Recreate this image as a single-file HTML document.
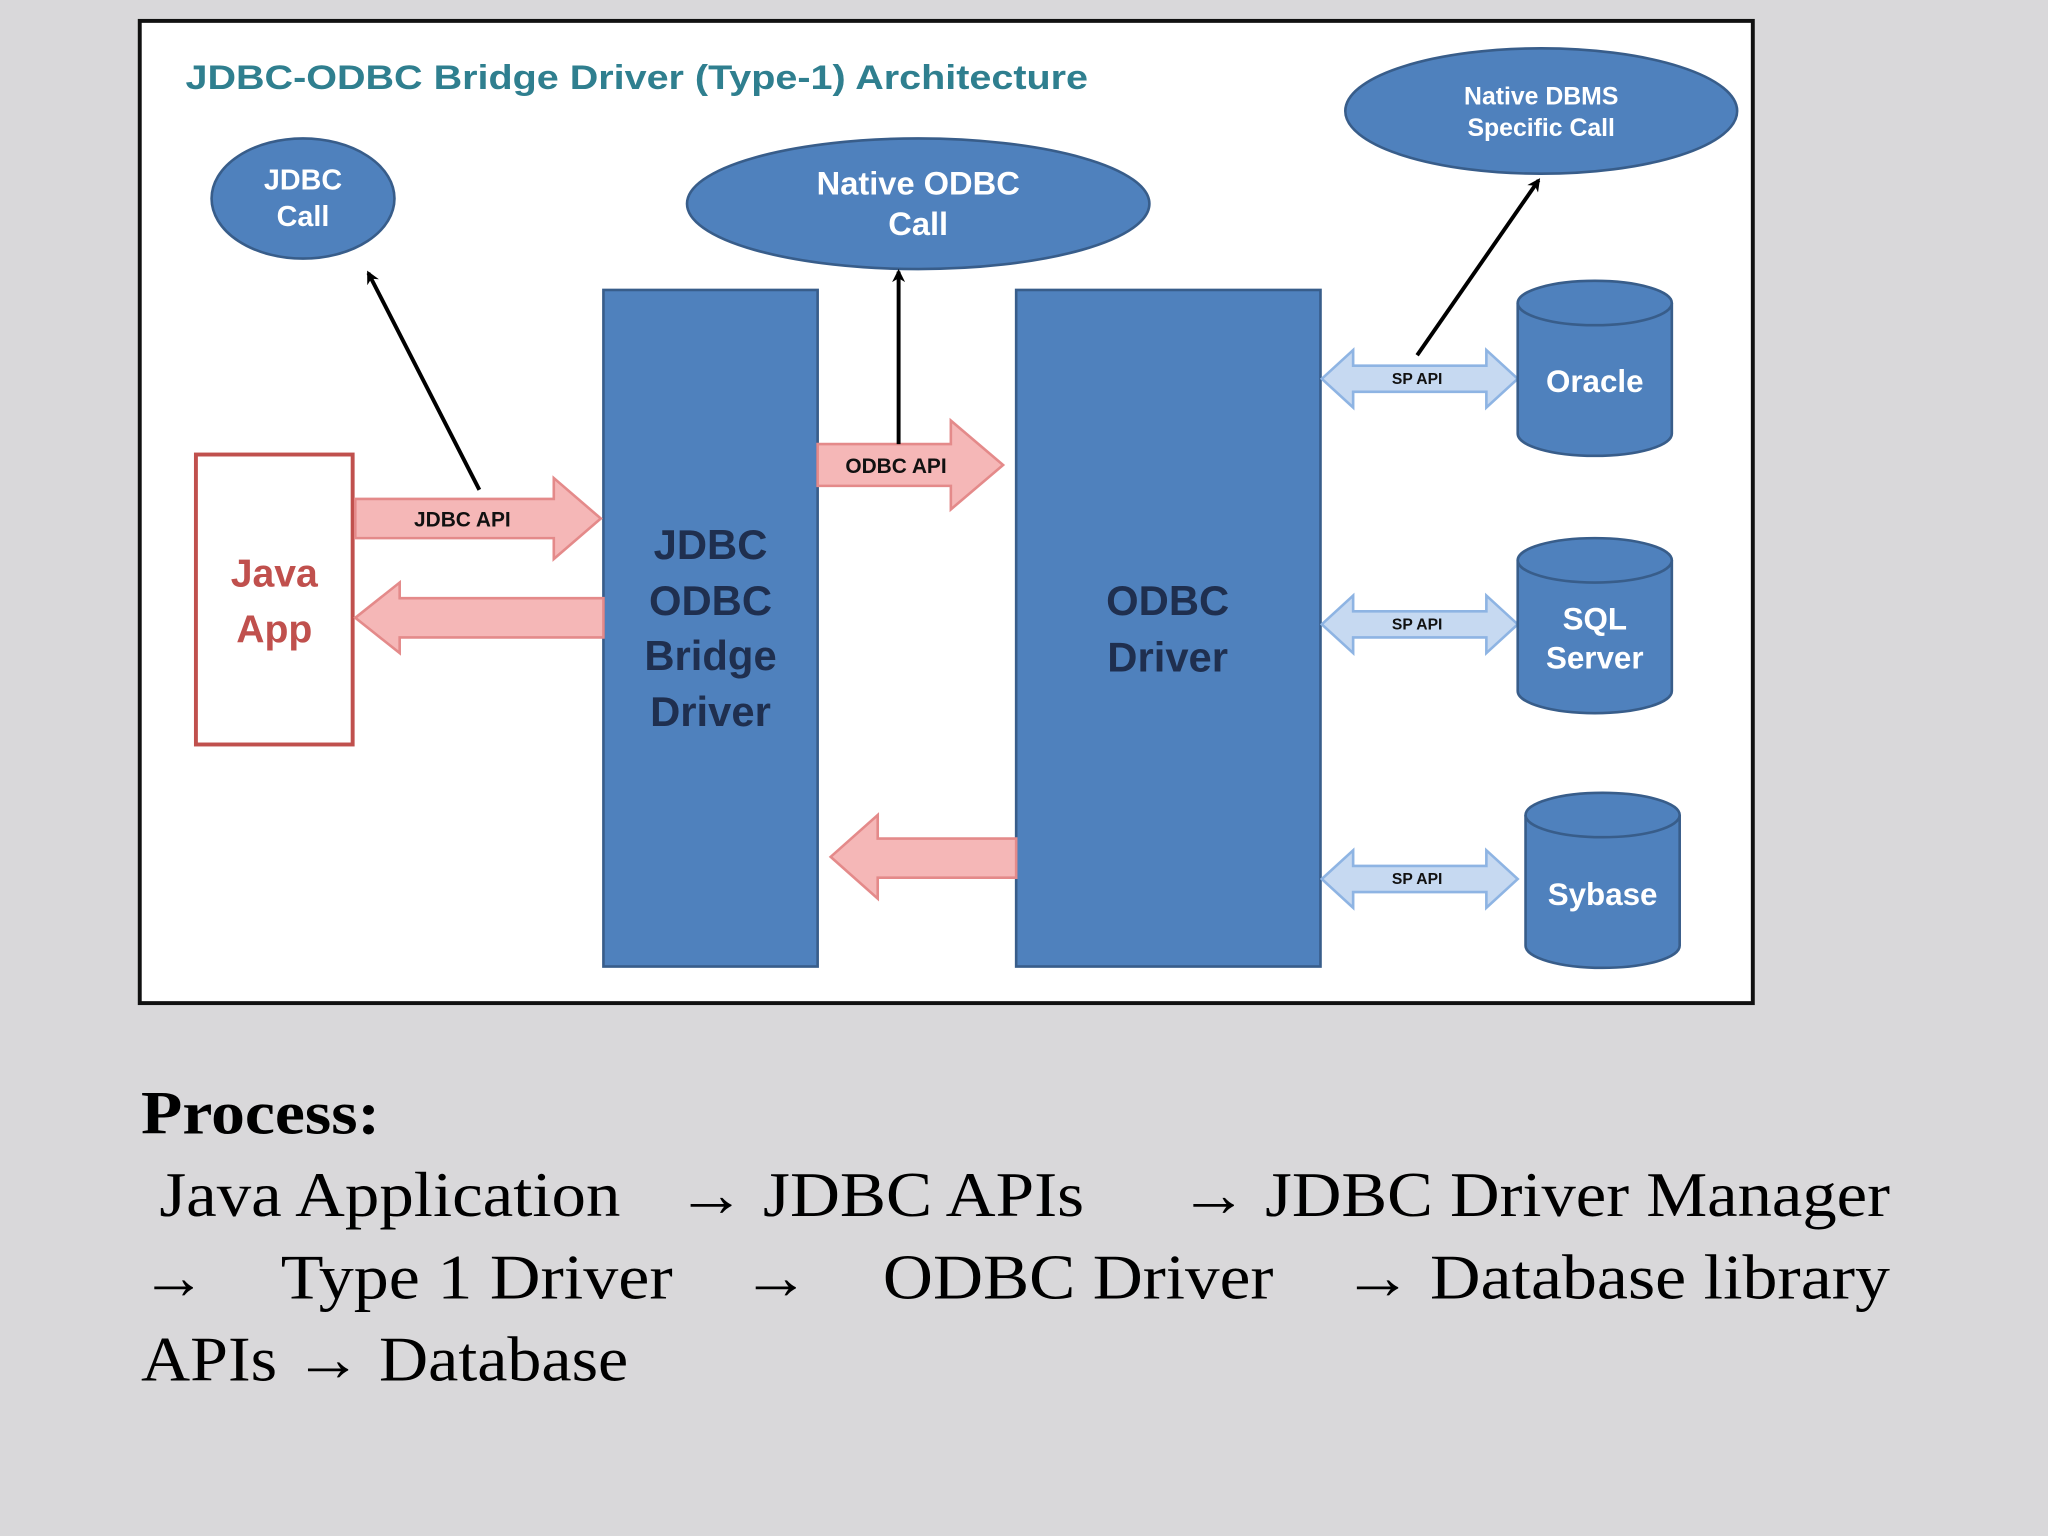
<!DOCTYPE html>
<html><head><meta charset="utf-8"><style>
html,body{margin:0;padding:0;background:#d9d8da;}
svg{display:block;}
.s{font-family:"Liberation Sans",sans-serif;font-weight:bold;}
.r{font-family:"Liberation Serif",serif;fill:#000;}
</style></head><body>
<svg width="2048" height="1536" viewBox="0 0 1568 1176" xmlns="http://www.w3.org/2000/svg">
<defs>
<marker id="ah" markerWidth="10" markerHeight="10" refX="8" refY="5" orient="auto" markerUnits="userSpaceOnUse"><path d="M0,0 L10,5 L0,10 L3,5 Z" fill="#000"/></marker>
</defs>
<rect width="1568" height="1176" fill="#d9d8da"/>
<rect x="107" y="16" width="1235" height="752" fill="#fff" stroke="#111" stroke-width="3"/>
<text x="142" y="68" class="s" font-size="26" fill="#2f7f8f" textLength="691" lengthAdjust="spacingAndGlyphs">JDBC-ODBC Bridge Driver (Type-1) Architecture</text>

<g fill="#4f81bd" stroke="#385d8a" stroke-width="2">
<ellipse cx="232" cy="152" rx="70" ry="46"/>
<ellipse cx="703" cy="156" rx="177" ry="50"/>
<ellipse cx="1180" cy="85" rx="150" ry="48"/>
<rect x="462" y="222" width="164" height="518"/>
<rect x="778" y="222" width="233" height="518"/>
</g>
<g class="s" fill="#fff" text-anchor="middle" font-size="22" font-weight="normal">
<text x="232" y="145">JDBC</text><text x="232" y="173">Call</text>
<text x="703" y="149" font-size="25">Native ODBC</text><text x="703" y="180" font-size="25">Call</text>
<text x="1180" y="80" font-size="19">Native DBMS</text><text x="1180" y="104" font-size="19">Specific Call</text>
</g>
<g class="s" fill="#1f2f4f" text-anchor="middle" font-size="32">
<text x="544" y="428">JDBC</text><text x="544" y="471">ODBC</text><text x="544" y="513">Bridge</text><text x="544" y="556">Driver</text>
<text x="894" y="471">ODBC</text><text x="894" y="514">Driver</text>
</g>
<rect x="150" y="348" width="120" height="222" fill="#fff" stroke="#c0504d" stroke-width="3"/>
<text x="210" y="449" class="s" font-size="30" fill="#c0504d" text-anchor="middle" font-weight="normal">Java</text>
<text x="210" y="492" class="s" font-size="30" fill="#c0504d" text-anchor="middle" font-weight="normal">App</text>

<g fill="#f5b7b7" stroke="#e48a8a" stroke-width="2">
<path d="M272,382 H424 V366 L460,397 L424,428 V412 H272 Z"/>
<path d="M462,458 H306 V446 L272,473 L306,500 V488 H462 Z"/>
<path d="M626,340 H728 V322 L768,356 L728,390 V372 H626 Z"/>
<path d="M778,642 H672 V624 L636,656 L672,688 V672 H778 Z"/>
</g>
<g class="s" font-size="16" fill="#111" text-anchor="middle">
<text x="354" y="403">JDBC API</text>
<text x="686" y="362">ODBC API</text>
</g>
<g fill="#c6d9f1" stroke="#8eb4e3" stroke-width="2">
<path d="M1012,290 L1036,268 V280 H1138 V268 L1162,290 L1138,312 V300 H1036 V312 Z"/>
<path d="M1012,478 L1036,456 V468 H1138 V456 L1162,478 L1138,500 V488 H1036 V500 Z"/>
<path d="M1012,673 L1036,651 V663 H1138 V651 L1162,673 L1138,695 V683 H1036 V695 Z"/>
</g>
<g class="s" font-size="12" fill="#111" text-anchor="middle">
<text x="1085" y="294">SP API</text><text x="1085" y="482">SP API</text><text x="1085" y="677">SP API</text>
</g>
<g stroke="#000" stroke-width="3" marker-end="url(#ah)">
<line x1="367" y1="375" x2="282" y2="209"/>
<line x1="688" y1="340" x2="688" y2="208"/>
<line x1="1085" y1="272" x2="1178" y2="138"/>
</g>
<g fill="#4f81bd" stroke="#385d8a" stroke-width="2">
<path d="M1162,232 V332 A59,17 0 0 0 1280,332 V232"/><ellipse cx="1221" cy="232" rx="59" ry="17"/>
<path d="M1162,429 V529 A59,17 0 0 0 1280,529 V429"/><ellipse cx="1221" cy="429" rx="59" ry="17"/>
<path d="M1168,624 V724 A59,17 0 0 0 1286,724 V624"/><ellipse cx="1227" cy="624" rx="59" ry="17"/>
</g>
<g class="s" font-size="24" fill="#fff" text-anchor="middle" font-weight="normal">
<text x="1221" y="300">Oracle</text>
<text x="1221" y="482">SQL</text><text x="1221" y="512">Server</text>
<text x="1227" y="693">Sybase</text>
</g>

<text x="108" y="868" class="r" font-size="47" font-weight="bold" textLength="183" lengthAdjust="spacingAndGlyphs">Process:</text>
<g class="r" font-size="49" lengthAdjust="spacingAndGlyphs">
<text x="122" y="931" textLength="353" lengthAdjust="spacingAndGlyphs">Java Application</text>
<text x="518" y="931" textLength="312" lengthAdjust="spacingAndGlyphs">→ JDBC APIs</text>
<text x="903" y="931" textLength="544" lengthAdjust="spacingAndGlyphs">→ JDBC Driver Manager</text>
<text x="108" y="994" textLength="50" lengthAdjust="spacingAndGlyphs">→</text>
<text x="215" y="994" textLength="300" lengthAdjust="spacingAndGlyphs">Type 1 Driver</text>
<text x="568" y="994" textLength="52" lengthAdjust="spacingAndGlyphs">→</text>
<text x="676" y="994" textLength="299" lengthAdjust="spacingAndGlyphs">ODBC Driver</text>
<text x="1028" y="994" textLength="419" lengthAdjust="spacingAndGlyphs">→ Database library</text>
<text x="108" y="1057" textLength="373" lengthAdjust="spacingAndGlyphs">APIs → Database</text>
</g>
</svg>
</body></html>
